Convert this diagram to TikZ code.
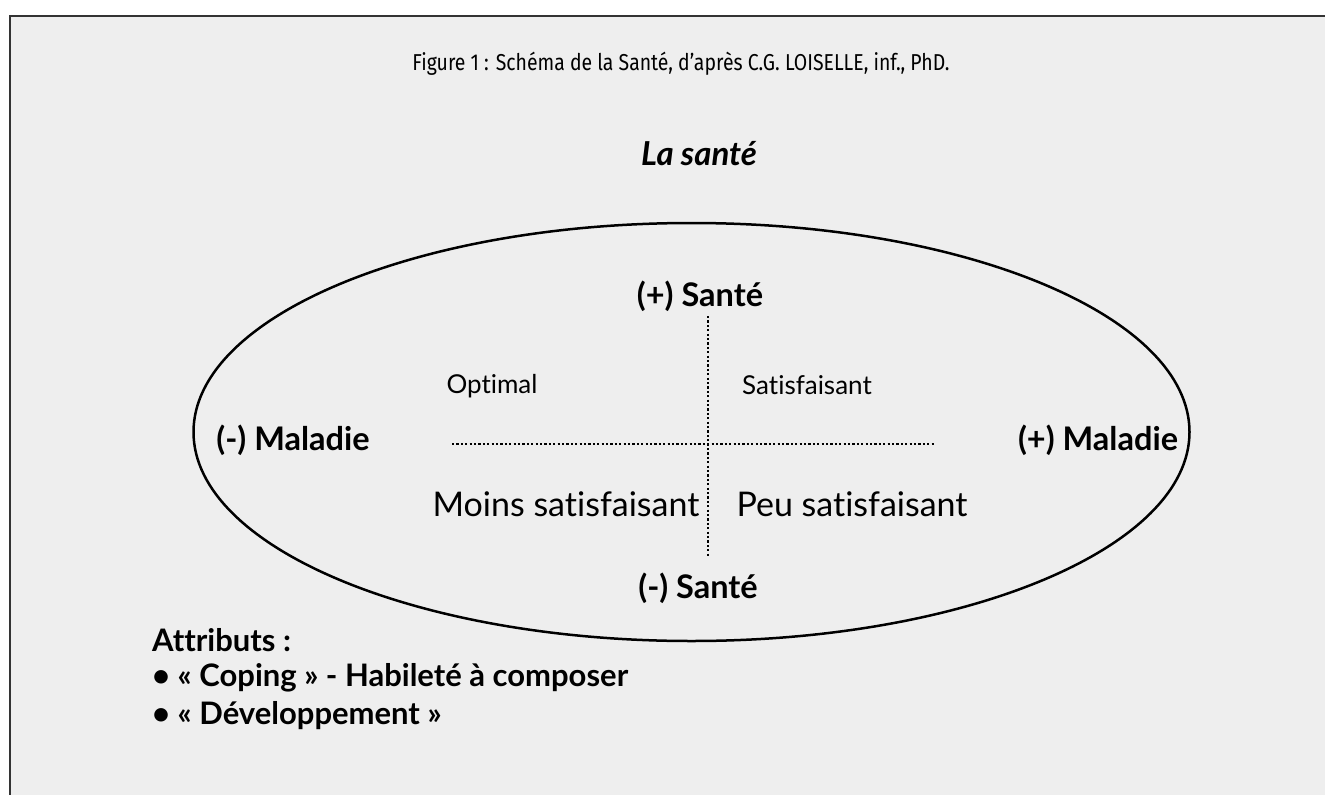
\documentclass[tikz,border=0pt]{standalone}
\usepackage{fontspec}
\setmainfont{Lato}[Ligatures=NoCommon]
\newfontfamily\titrefont[FakeStretch=0.845]{Fira Sans}
\usetikzlibrary{positioning,calc}
\definecolor{fondgris}{HTML}{EEEEEE}
\definecolor{cadre}{HTML}{333333}
\tikzset{
    pole/.style = {
        font=\fontsize{32.5}{38}\selectfont\bfseries,
        inner sep=0pt
    },
    zone/.style = {
        font=\fontsize{26}{31}\selectfont,
        inner sep=0pt
    },
    niveau/.style = {
        font=\fontsize{34}{40}\selectfont,
        inner sep=0pt
    },
    attribut/.style = {
        font=\fontsize{31}{37}\selectfont\bfseries,
        inner sep=0pt,
        anchor=west
    },
    axe/.style = {
        line width=2.3pt,
        dash pattern=on 2.2pt off 2.2pt
    },
}

\begin{document}
\begin{tikzpicture}[x=1pt, y=-1pt]

        \useasboundingbox (0,0) rectangle (1325,795);
        \fill[fondgris] (10,16) rectangle (1325,795);
        \draw[cadre, line width=2pt] (10,795) -- (10,16) -- (1325,16);

        \node[inner sep=0pt, font=\titrefont\fontsize{23}{27}\selectfont] (titre) at (681,64)
            {Figure 1 : Schéma de la Santé, d’après C.G. LOISELLE, inf., PhD.};
        \node[inner sep=0pt, font=\fontsize{33}{39}\selectfont\bfseries\itshape] (lasante) at (699,154) {La santé};

        % ellipse
        \coordinate (centre) at (691.5,432);
        \draw[line width=2.5pt] (centre) ellipse [x radius=498, y radius=209];

        \node[pole] (santeplus) at (700,296) {(+) Santé};
        \node[pole] (santemoins) at (698,588) {(-) Santé};
        \node[pole] (maladiemoins) at (293,440) {(-) Maladie};
        \node[pole] (maladieplus) at (1098,440) {(+) Maladie};

        \node[zone] (optimal) at (492,386) {Optimal};
        \node[zone] (satisf) at (807,385) {Satisfaisant};
        \node[niveau] (moins) at (566,504) {Moins satisfaisant};
        \node[niveau] (peu) at (852,504) {Peu satisfaisant};

        %axes
        \coordinate (haut) at (708,316);
        \coordinate (bas) at (708,556);
        \coordinate (gauche) at (452,444);
        \coordinate (droite) at (935,444);
        \draw[axe] (haut) -- (bas);
        \draw[axe] (gauche) -- (droite);

        \node[attribut] (attributs) at (152,640) {Attributs :};
        \node[attribut, below=38pt of attributs.west, anchor=west] (coping) {• « Coping » - Habileté à composer};
        \node[attribut, below=38pt of coping.west, anchor=west] (devel) {• « Développement »};

    \end{tikzpicture}
\end{document}
